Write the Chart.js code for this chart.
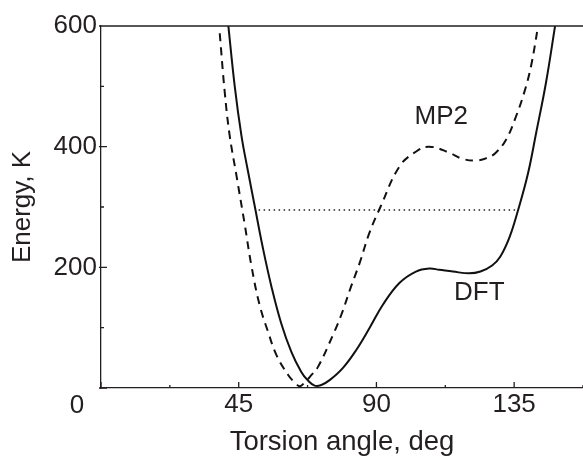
<!DOCTYPE html>
<html>
<head>
<meta charset="utf-8">
<script src="https://cdn.jsdelivr.net/npm/chart.js@4.4.1/dist/chart.umd.min.js"></script>
<style>
  html, body { margin: 0; padding: 0; background: #fff; }
  canvas { display: block; }
</style>
</head>
<body>
<canvas id="torsionChart" width="583" height="456"></canvas>
<script>
// torsion angle (deg) vs energy (K)
const dftAngle = [41.5, 43.7, 45.9, 48.0, 50.4, 52.9, 55.7, 58.9, 62.2, 65.4, 67.5, 69.8, 72.0, 74.7, 79.0, 83.4, 87.7, 92.1, 97.5, 102.9, 107.3, 110.5, 115.0, 120.3, 124.0, 127.8, 130.5, 133.5, 136.3, 139.5, 142.2, 145.4, 148.5];
const dftEnergy = [606, 500, 418, 360, 297, 232, 168, 107, 60, 27, 13, 4, 5, 13, 33, 63, 99, 138, 174, 193, 198, 196, 193, 190, 193, 203, 218, 250, 295, 355, 423, 506, 604];

const mp2Angle = [38.8, 40.4, 42.0, 44.2, 47.0, 49.1, 51.8, 54.6, 57.3, 61.1, 63.5, 65.0, 66.5, 68.5, 70.9, 75.8, 78.5, 81.7, 84.5, 87.7, 91.3, 97.5, 103.0, 107.3, 113.8, 118.0, 122.5, 126.0, 129.0, 132.4, 135.6, 138.3, 140.5, 142.9];
const mp2Energy = [588, 492, 420, 354, 270, 204, 138, 93, 55, 22, 8, 3, 9, 20, 35, 88, 121, 168, 207, 257, 300, 367, 392, 400, 390, 380, 377, 381, 390, 412, 450, 490, 533, 602];

// dotted level line
const levelAngle = [51.5, 135.6];
const levelEnergy = [295, 295];

const xTickLabels = [45, 90, 135];
const yTickLabels = [200, 400, 600];

const textColor = "#231f20";
const fontFamily = "'Liberation Sans', Arial, sans-serif";

function toPoints(xs, ys) {
  return xs.map((x, i) => ({ x: x, y: ys[i] }));
}

// ticks drawn inward, plus top frame line, "0" corner label and curve names
const framePlugin = {
  id: "frame",
  afterDraw(chart) {
    const ctx = chart.ctx;
    const area = chart.chartArea;
    const xs = chart.scales.x;
    const ys = chart.scales.y;
    ctx.save();
    ctx.strokeStyle = textColor;
    ctx.lineWidth = 1.3;
    ctx.beginPath();
    ctx.moveTo(area.left, area.top);
    ctx.lineTo(area.right, area.top);
    xs.ticks.forEach((t) => {
      const px = xs.getPixelForValue(t.value);
      const len = t.value % 45 === 0 ? 6 : 3;
      ctx.moveTo(px, area.bottom);
      ctx.lineTo(px, area.bottom - len);
    });
    ys.ticks.forEach((t) => {
      const py = ys.getPixelForValue(t.value);
      const major = t.value % 200 === 0;
      ctx.moveTo(area.left - (major ? 2 : 0), py);
      ctx.lineTo(area.left + (major ? 6 : 3), py);
    });
    ctx.stroke();

    ctx.fillStyle = textColor;
    ctx.font = "26px " + fontFamily;
    ctx.textAlign = "center";
    ctx.textBaseline = "middle";
    ctx.fillText("0", xs.getPixelForValue(0) - 24, area.bottom + 18);
    ctx.fillText("MP2", xs.getPixelForValue(111.2), ys.getPixelForValue(449));
    ctx.fillText("DFT", xs.getPixelForValue(123.6), ys.getPixelForValue(157));
    ctx.restore();
  },
};

const ctx = document.getElementById("torsionChart").getContext("2d");
new Chart(ctx, {
  type: "line",
  data: {
    datasets: [
      {
        label: "DFT",
        data: toPoints(dftAngle, dftEnergy),
        borderColor: "#111",
        borderWidth: 2,
        tension: 0.4,
      },
      {
        label: "MP2",
        data: toPoints(mp2Angle, mp2Energy),
        borderColor: "#111",
        borderWidth: 2,
        borderDash: [8, 6],
        tension: 0.4,
      },
      {
        label: "level",
        data: toPoints(levelAngle, levelEnergy),
        borderColor: "#222",
        borderWidth: 1.5,
        borderDash: [1.5, 3.5],
      },
    ],
  },
  options: {
    responsive: false,
    animation: false,
    layout: { padding: { top: 26, right: 0, left: 0, bottom: 0 } },
    elements: { point: { radius: 0 } },
    plugins: { legend: { display: false }, tooltip: { enabled: false } },
    scales: {
      x: {
        type: "linear",
        min: 0,
        max: 157.5,
        afterFit: (scale) => { scale.height = 68; },
        grid: { display: false, drawTicks: true, tickLength: 1, color: "rgba(0,0,0,0)" },
        border: { display: true, color: textColor, width: 1.3 },
        ticks: {
          stepSize: 22.5,
          autoSkip: false,
          maxRotation: 0,
          padding: 0,
          color: textColor,
          font: { size: 26, family: fontFamily },
          callback: (v) => (xTickLabels.includes(v) ? String(v) : ""),
        },
        title: {
          display: true,
          text: "Torsion angle, deg",
          color: textColor,
          font: { size: 27.5, family: fontFamily, lineHeight: 1 },
          padding: { top: 0, bottom: 0 },
        },
      },
      y: {
        min: 0,
        max: 600,
        afterFit: (scale) => { scale.width = 101; },
        grid: { display: false, drawTicks: false },
        border: { display: true, color: textColor, width: 1.3 },
        ticks: {
          stepSize: 100,
          padding: 4,
          color: textColor,
          font: { size: 26, family: fontFamily },
          callback: (v) => (yTickLabels.includes(v) ? String(v) : ""),
        },
        title: {
          display: true,
          text: "Energy, K",
          color: textColor,
          font: { size: 26, family: fontFamily, lineHeight: 1.2 },
          padding: { top: 7, bottom: 0 },
        },
      },
    },
  },
  plugins: [framePlugin],
});
</script>
</body>
</html>
